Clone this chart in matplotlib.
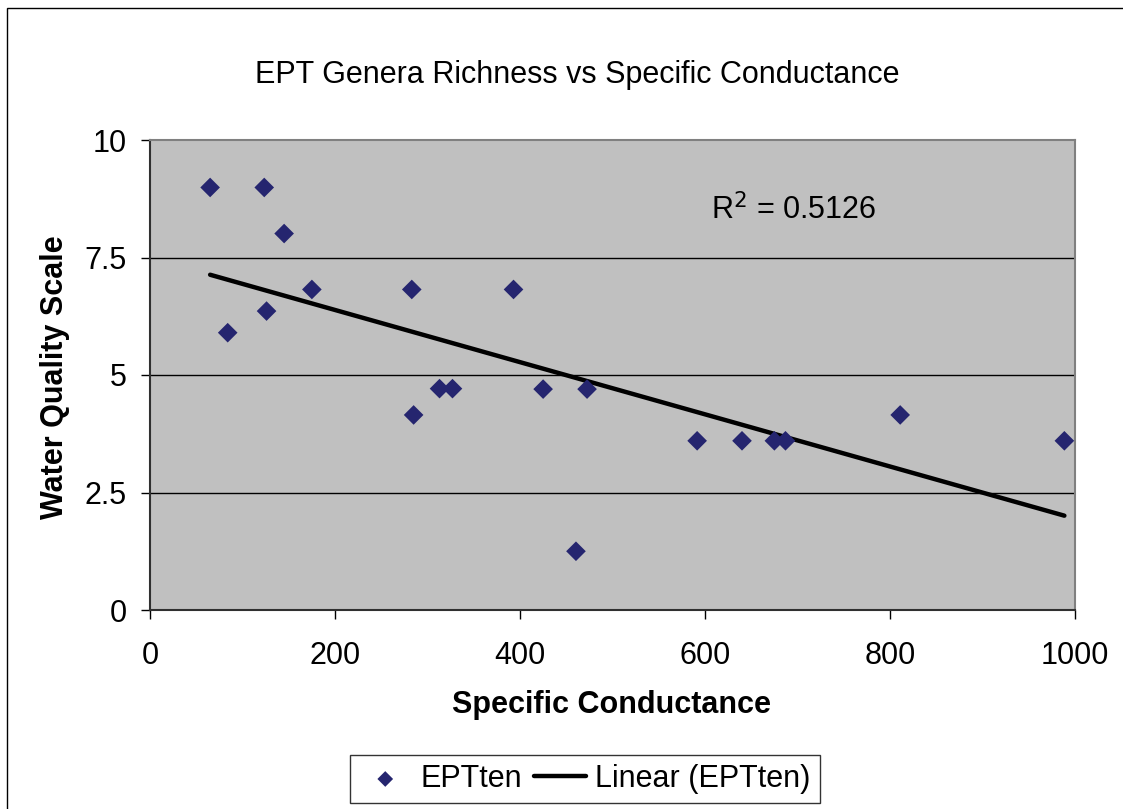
import numpy as np
import matplotlib
matplotlib.use("Agg")
import matplotlib.pyplot as plt
from matplotlib.patches import Rectangle

plt.rcParams['font.family'] = ['Liberation Sans', 'DejaVu Sans']

# Data
conductance = [65, 84, 123.5, 126, 145, 175, 283, 285, 313, 327, 393, 425, 460.5, 472.5,
               591.5, 640, 675, 687, 811, 988.5]
ept = [8.99, 5.90, 8.99, 6.36, 8.01, 6.82, 6.82, 4.15, 4.71, 4.71, 6.82, 4.70, 1.25, 4.70,
       3.60, 3.60, 3.60, 3.60, 4.15, 3.60]
title = "EPT Genera Richness vs Specific Conductance"
xlabel = "Specific Conductance"
ylabel = "Water Quality Scale"
xticks = [0, 200, 400, 600, 800, 1000]
yticks = [0, 2.5, 5, 7.5, 10]
ytick_labels = ["0", "2.5", "5", "7.5", "10"]
r2_text = "R$^2$ = 0.5126"

W, H = 1123, 809
FS = 22
fig = plt.figure(figsize=(W / 100, H / 100), dpi=100)
fig.patch.set_facecolor('white')

# outer chart frame
fig.patches.append(Rectangle((7 / W, -0.01), 1.02, 1 - 8 / H + 0.01, transform=fig.transFigure,
                             fill=False, edgecolor='black', linewidth=1.0))

ax = fig.add_axes([150 / W, 1 - 610 / H, (1075 - 150) / W, (610 - 140) / H])
ax.set_facecolor('#c0c0c0')
ax.set_xlim(0, 1000)
ax.set_ylim(0, 10)

for y in yticks[1:-1]:
    ax.axhline(y, color='black', linewidth=1.0, zorder=1)

x = np.array(conductance)
y = np.array(ept)
ax.scatter(x, y, marker='D', s=100, color='#25256f', edgecolors='none', zorder=3, label='EPTten')

m, b = np.polyfit(x, y, 1)
xs = np.array([x.min(), x.max()])
ax.plot(xs, m * xs + b, color='black', linewidth=3.2, solid_capstyle='round', zorder=2,
        label='Linear (EPTten)')

ax.text(607, 8.5, r2_text, fontsize=FS, va='center', ha='left')

ax.set_xticks(xticks)
ax.set_xticklabels([str(t) for t in xticks])
ax.set_yticks(yticks)
ax.set_yticklabels(ytick_labels)
ax.tick_params(axis='both', direction='out', length=6.5, width=1, labelsize=FS, colors='black')
ax.tick_params(axis='x', pad=16)
ax.tick_params(axis='y', pad=10)

for s in ['top', 'right']:
    ax.spines[s].set_color('#808080')
    ax.spines[s].set_linewidth(1.5)
for s in ['left', 'bottom']:
    ax.spines[s].set_color('#303030')
    ax.spines[s].set_linewidth(1.5)

fig.text(577 / W, 1 - 75 / H, title, fontsize=FS, ha='center', va='center')
fig.text(612 / W, 1 - 705 / H, xlabel, fontsize=FS, fontweight='bold', ha='center', va='center')
fig.text(55 / W, 1 - 377 / H, ylabel, fontsize=FS, fontweight='bold', ha='center', va='center',
         rotation=90)

leg = fig.legend(loc='center', bbox_to_anchor=(585 / W, 1 - 779 / H), ncol=2, fontsize=FS,
                 frameon=True, fancybox=False, edgecolor='black', handlelength=1.7,
                 columnspacing=0.4, handletextpad=0.3, borderpad=0.3, markerscale=0.8)
leg.get_frame().set_linewidth(1.0)

fig.savefig('out.png', dpi=100)
